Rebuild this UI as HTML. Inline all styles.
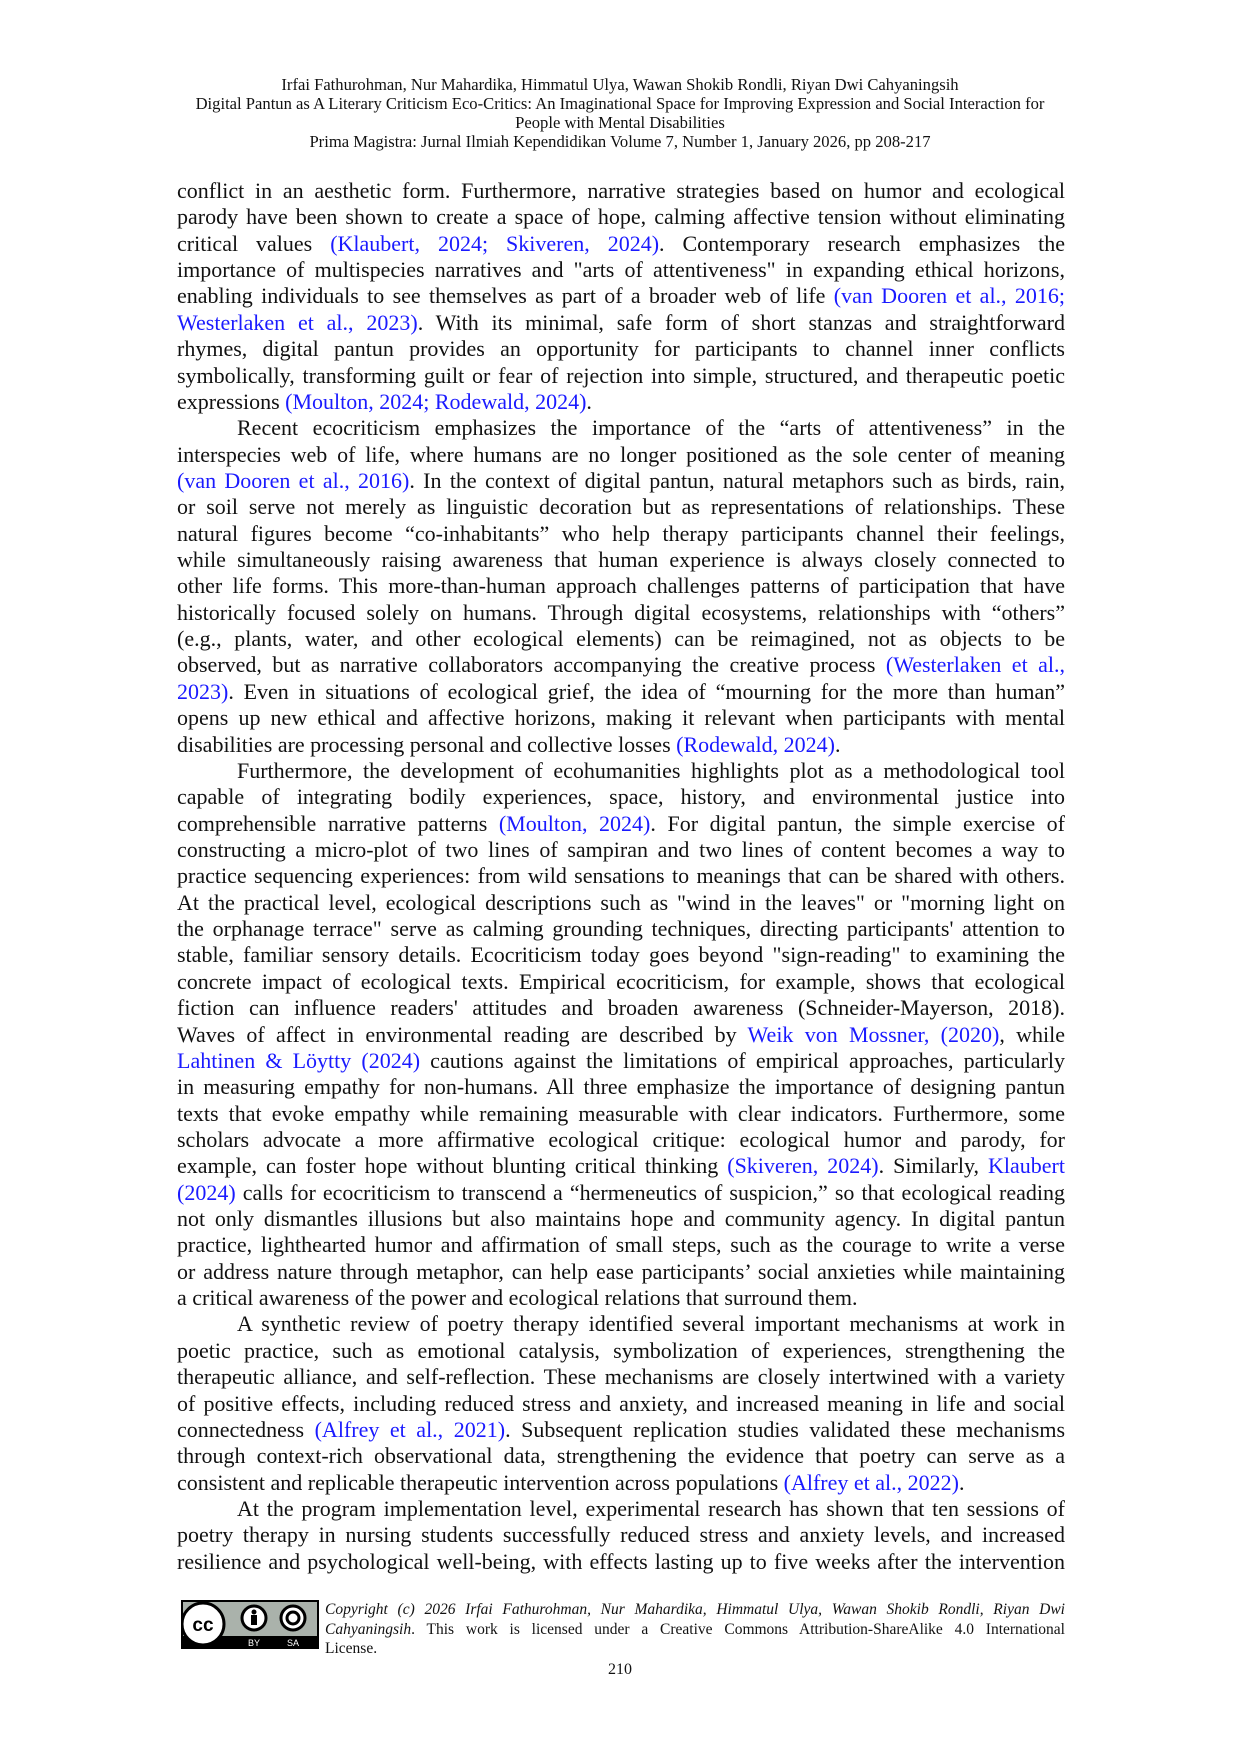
<!DOCTYPE html>
<html><head><meta charset="utf-8"><style>
body{margin:0;background:#fff;}
.page{position:relative;width:1240px;height:1754px;overflow:hidden;background:#fff;font-family:"Liberation Serif",serif;color:#111;}
.hdr{position:absolute;left:0;width:1240px;top:75px;text-align:center;font-size:16.6px;line-height:19px;}
.body{position:absolute;left:177px;width:888px;top:178px;font-size:22px;line-height:26.37px;}
.l{white-space:nowrap;text-align:justify;text-align-last:justify;height:26.37px;}
.e{text-align-last:left;text-align:left;}
.i{padding-left:60px;}
a,.c{color:#1a1aff;text-decoration:none;}
.foot{position:absolute;left:325px;width:740px;top:1600px;font-size:15.5px;line-height:19.5px;}
.foot .l{height:19.5px;}
.pn{position:absolute;left:0;width:1240px;top:1661px;text-align:center;font-size:16px;}
</style></head><body><div class="page">
<div class="hdr">Irfai Fathurohman, Nur Mahardika, Himmatul Ulya, Wawan Shokib Rondli, Riyan Dwi Cahyaningsih<br>Digital Pantun as A Literary Criticism Eco-Critics: An Imaginational Space for Improving Expression and Social Interaction for<br>People with Mental Disabilities<br>Prima Magistra: Jurnal Ilmiah Kependidikan Volume 7, Number 1, January 2026, pp 208-217</div>
<div class="body">
<div class="l">conflict in an aesthetic form. Furthermore, narrative strategies based on humor and ecological</div>
<div class="l">parody have been shown to create a space of hope, calming affective tension without eliminating</div>
<div class="l">critical values <span class="c">(Klaubert, 2024; Skiveren, 2024)</span>. Contemporary research emphasizes the</div>
<div class="l">importance of multispecies narratives and "arts of attentiveness" in expanding ethical horizons,</div>
<div class="l">enabling individuals to see themselves as part of a broader web of life <span class="c">(van Dooren et al., 2016;</span></div>
<div class="l"><span class="c">Westerlaken et al., 2023)</span>. With its minimal, safe form of short stanzas and straightforward</div>
<div class="l">rhymes, digital pantun provides an opportunity for participants to channel inner conflicts</div>
<div class="l">symbolically, transforming guilt or fear of rejection into simple, structured, and therapeutic poetic</div>
<div class="l e">expressions <span class="c">(Moulton, 2024; Rodewald, 2024)</span>.</div>
<div class="l i">Recent ecocriticism emphasizes the importance of the “arts of attentiveness” in the</div>
<div class="l">interspecies web of life, where humans are no longer positioned as the sole center of meaning</div>
<div class="l"><span class="c">(van Dooren et al., 2016)</span>. In the context of digital pantun, natural metaphors such as birds, rain,</div>
<div class="l">or soil serve not merely as linguistic decoration but as representations of relationships. These</div>
<div class="l">natural figures become “co-inhabitants” who help therapy participants channel their feelings,</div>
<div class="l">while simultaneously raising awareness that human experience is always closely connected to</div>
<div class="l">other life forms. This more-than-human approach challenges patterns of participation that have</div>
<div class="l">historically focused solely on humans. Through digital ecosystems, relationships with “others”</div>
<div class="l">(e.g., plants, water, and other ecological elements) can be reimagined, not as objects to be</div>
<div class="l">observed, but as narrative collaborators accompanying the creative process <span class="c">(Westerlaken et al.,</span></div>
<div class="l"><span class="c">2023)</span>. Even in situations of ecological grief, the idea of “mourning for the more than human”</div>
<div class="l">opens up new ethical and affective horizons, making it relevant when participants with mental</div>
<div class="l e">disabilities are processing personal and collective losses <span class="c">(Rodewald, 2024)</span>.</div>
<div class="l i">Furthermore, the development of ecohumanities highlights plot as a methodological tool</div>
<div class="l">capable of integrating bodily experiences, space, history, and environmental justice into</div>
<div class="l">comprehensible narrative patterns <span class="c">(Moulton, 2024)</span>. For digital pantun, the simple exercise of</div>
<div class="l">constructing a micro-plot of two lines of sampiran and two lines of content becomes a way to</div>
<div class="l">practice sequencing experiences: from wild sensations to meanings that can be shared with others.</div>
<div class="l">At the practical level, ecological descriptions such as "wind in the leaves" or "morning light on</div>
<div class="l">the orphanage terrace" serve as calming grounding techniques, directing participants' attention to</div>
<div class="l">stable, familiar sensory details. Ecocriticism today goes beyond "sign-reading" to examining the</div>
<div class="l">concrete impact of ecological texts. Empirical ecocriticism, for example, shows that ecological</div>
<div class="l">fiction can influence readers' attitudes and broaden awareness (Schneider-Mayerson, 2018).</div>
<div class="l">Waves of affect in environmental reading are described by <span class="c">Weik von Mossner, (2020)</span>, while</div>
<div class="l"><span class="c">Lahtinen &amp; Löytty (2024)</span> cautions against the limitations of empirical approaches, particularly</div>
<div class="l">in measuring empathy for non-humans. All three emphasize the importance of designing pantun</div>
<div class="l">texts that evoke empathy while remaining measurable with clear indicators. Furthermore, some</div>
<div class="l">scholars advocate a more affirmative ecological critique: ecological humor and parody, for</div>
<div class="l">example, can foster hope without blunting critical thinking <span class="c">(Skiveren, 2024)</span>. Similarly, <span class="c">Klaubert</span></div>
<div class="l"><span class="c">(2024)</span> calls for ecocriticism to transcend a “hermeneutics of suspicion,” so that ecological reading</div>
<div class="l">not only dismantles illusions but also maintains hope and community agency. In digital pantun</div>
<div class="l">practice, lighthearted humor and affirmation of small steps, such as the courage to write a verse</div>
<div class="l">or address nature through metaphor, can help ease participants’ social anxieties while maintaining</div>
<div class="l e">a critical awareness of the power and ecological relations that surround them.</div>
<div class="l i">A synthetic review of poetry therapy identified several important mechanisms at work in</div>
<div class="l">poetic practice, such as emotional catalysis, symbolization of experiences, strengthening the</div>
<div class="l">therapeutic alliance, and self-reflection. These mechanisms are closely intertwined with a variety</div>
<div class="l">of positive effects, including reduced stress and anxiety, and increased meaning in life and social</div>
<div class="l">connectedness <span class="c">(Alfrey et al., 2021)</span>. Subsequent replication studies validated these mechanisms</div>
<div class="l">through context-rich observational data, strengthening the evidence that poetry can serve as a</div>
<div class="l e">consistent and replicable therapeutic intervention across populations <span class="c">(Alfrey et al., 2022)</span>.</div>
<div class="l i">At the program implementation level, experimental research has shown that ten sessions of</div>
<div class="l">poetry therapy in nursing students successfully reduced stress and anxiety levels, and increased</div>
<div class="l">resilience and psychological well-being, with effects lasting up to five weeks after the intervention</div>
</div>
<svg style="position:absolute;left:181px;top:1600px" width="138" height="49" viewBox="0 0 138 49">
<rect x="0" y="0" width="138" height="49" fill="#000"/>
<rect x="2" y="2" width="134" height="34" fill="#aab2ab"/>
<rect x="46" y="36" width="90" height="11" fill="#000"/>
<circle cx="22" cy="24" r="21" fill="#fff" stroke="#000" stroke-width="3"/>
<text x="22" y="31" font-family="Liberation Sans,sans-serif" font-weight="bold" font-size="19" text-anchor="middle">cc</text>
<circle cx="73" cy="18" r="12" fill="#fff" stroke="#000" stroke-width="3"/>
<circle cx="73" cy="12" r="2.5" fill="#000"/><rect x="70" y="15" width="6" height="10" fill="#000"/>
<circle cx="112" cy="18" r="12" fill="#fff" stroke="#000" stroke-width="3"/>
<circle cx="112" cy="18" r="6" fill="none" stroke="#000" stroke-width="3"/>
<text x="73" y="46" font-family="Liberation Sans,sans-serif" font-size="9" fill="#fff" text-anchor="middle">BY</text>
<text x="112" y="46" font-family="Liberation Sans,sans-serif" font-size="9" fill="#fff" text-anchor="middle">SA</text>
</svg>
<div class="foot">
<div class="l"><i>Copyright (c) 2026 Irfai Fathurohman, Nur Mahardika, Himmatul Ulya, Wawan Shokib Rondli, Riyan Dwi</i></div>
<div class="l"><i>Cahyaningsih</i>. This work is licensed under a Creative Commons Attribution-ShareAlike 4.0 International</div>
<div class="l e">License.</div>
</div>
<div class="pn">210</div>
</div></body></html>
